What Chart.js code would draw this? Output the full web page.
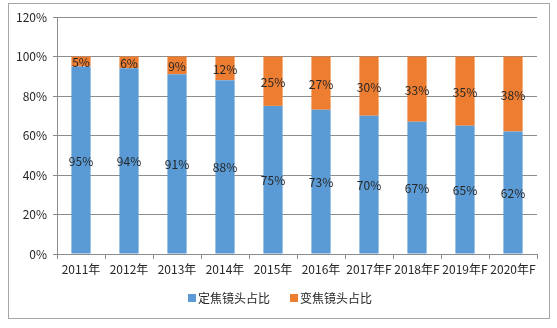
<!DOCTYPE html>
<html>
<head>
<meta charset="utf-8">
<script src="https://cdn.jsdelivr.net/npm/chart.js@4.4.1/dist/chart.umd.min.js"></script>
<style>
html,body{margin:0;padding:0;background:#fff;}
#wrap{position:relative;width:557px;height:328px;}
</style>
</head>
<body>
<div id="wrap"><canvas id="c" width="557" height="328"></canvas></div>
<script>
const categories = ['2011年','2012年','2013年','2014年','2015年','2016年','2017年F','2018年F','2019年F','2020年F'];
const seriesNames = ['定焦镜头占比','变焦镜头占比'];
const fixedShare = [95,94,91,88,75,73,70,67,65,62];
const zoomShare = [5,6,9,12,25,27,30,33,35,38];
const yTickLabels = ['0%','20%','40%','60%','80%','100%','120%'];

const FONT = '"Noto Sans CJK SC", "Liberation Sans", sans-serif';
const TEXT = '#262626';
const GRID = '#8c8c8c';

const framePlugin = {
  id: 'frame',
  beforeDraw(chart) {
    const ctx = chart.ctx;
    ctx.save();
    ctx.fillStyle = '#fff';
    ctx.fillRect(0, 0, chart.width, chart.height);
    ctx.strokeStyle = '#a6a6a6';
    ctx.lineWidth = 1;
    ctx.strokeRect(8.5, 3.5, 541, 315);
    ctx.restore();
  }
};

const labelPlugin = {
  id: 'barLabels',
  afterDatasetsDraw(chart) {
    const ctx = chart.ctx;
    ctx.save();
    ctx.font = '12px ' + FONT;
    ctx.fillStyle = TEXT;
    ctx.textAlign = 'center';
    ctx.textBaseline = 'middle';
    chart.data.datasets.forEach((ds, di) => {
      const meta = chart.getDatasetMeta(di);
      meta.data.forEach((bar, i) => {
        const p = bar.getProps(['x','y','base'], true);
        const yc = (p.y + p.base) / 2;
        ctx.fillText(ds.data[i] + '%', p.x, yc + 1);
      });
    });
    ctx.restore();
  }
};

// legend drawn from the datasets (colours + names), centred under the plot
const legendPlugin = {
  id: 'customLegend',
  afterDraw(chart) {
    const ctx = chart.ctx;
    ctx.save();
    ctx.font = '12px ' + FONT;
    ctx.textBaseline = 'middle';
    ctx.textAlign = 'left';
    const box = 8, gapText = 2, gapItem = 20, cy = 298, cx = 280.5;
    const items = chart.data.datasets.map(ds => ({
      text: ds.label, color: ds.backgroundColor, w: box + gapText + ctx.measureText(ds.label).width
    }));
    const total = items.reduce((a, it) => a + it.w, 0) + gapItem * (items.length - 1);
    let x = Math.round(cx - total / 2);
    items.forEach(it => {
      ctx.fillStyle = it.color;
      ctx.fillRect(x, cy - box / 2, box, box);
      ctx.fillStyle = TEXT;
      ctx.fillText(it.text, x + box + gapText, cy);
      x += it.w + gapItem;
    });
    ctx.restore();
  }
};

new Chart(document.getElementById('c'), {
  type: 'bar',
  data: {
    labels: categories,
    datasets: [
      { label: seriesNames[0], data: fixedShare, backgroundColor: '#5B9BD5', barPercentage: 0.4, categoryPercentage: 1 },
      { label: seriesNames[1], data: zoomShare, backgroundColor: '#ED7D31', barPercentage: 0.4, categoryPercentage: 1 }
    ]
  },
  options: {
    responsive: false,
    animation: false,
    devicePixelRatio: 1,
    layout: { padding: { left: 0, right: 20, top: 17, bottom: 44 } },
    plugins: {
      tooltip: { enabled: false },
      legend: { display: false }
    },
    scales: {
      x: {
        stacked: true,
        grid: { drawOnChartArea: false, drawTicks: true, tickLength: 5, color: GRID },
        border: { color: GRID },
        ticks: { color: TEXT, font: { size: 12, family: FONT }, padding: 3, maxRotation: 0, autoSkip: false },
        afterFit(s) { s.height = 30; }
      },
      y: {
        stacked: true,
        min: 0, max: 120,
        grid: { color: GRID, tickLength: 4 },
        border: { color: GRID },
        ticks: {
          stepSize: 20, color: TEXT, padding: 6,
          font: { size: 12, family: FONT },
          callback: (v) => yTickLabels[Math.round(v / 20)]
        },
        afterFit(s) { s.width = 57; }
      }
    }
  },
  plugins: [framePlugin, labelPlugin, legendPlugin]
});
</script>
</body>
</html>
